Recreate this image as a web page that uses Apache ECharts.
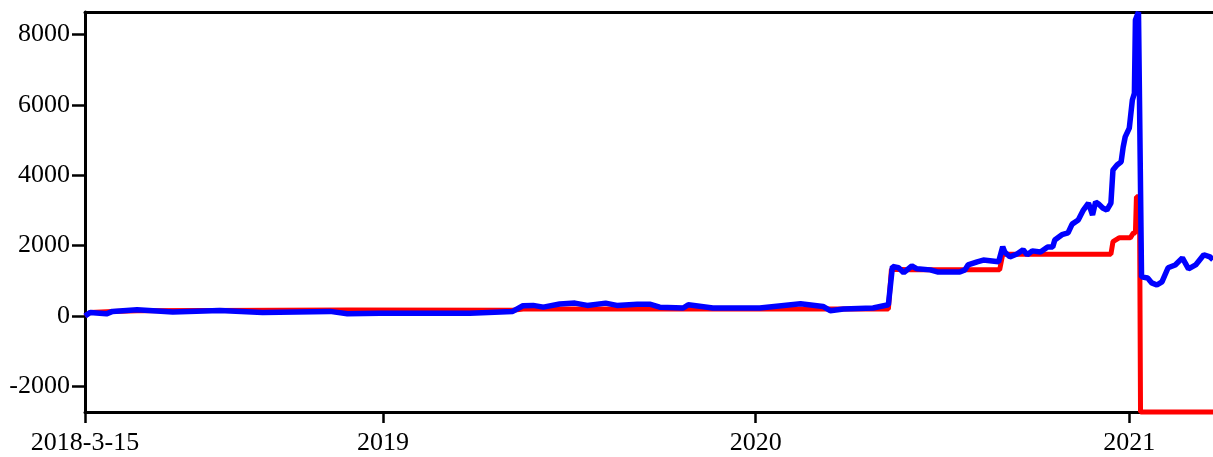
<!DOCTYPE html>
<html>
<head>
<meta charset="utf-8">
<script src="https://cdn.jsdelivr.net/npm/echarts@6/dist/echarts.min.js"></script>
<style>
html,body{margin:0;padding:0;background:#fff;}
#chart{width:1213px;height:457px;}
</style>
</head>
<body>
<div id="chart"></div>
<script>
// Blue series (dates and values)
var blueDates = ['2018-03-15','2018-03-20','2018-04-05','2018-04-11','2018-05-05','2018-06-09','2018-07-25','2018-09-05','2018-11-10','2018-11-27','2018-12-29',
'2019-03-27','2019-05-08','2019-05-18','2019-05-28','2019-06-07','2019-06-23','2019-07-08','2019-07-20','2019-08-07','2019-08-18','2019-09-07','2019-09-20','2019-09-29','2019-10-22','2019-10-27','2019-11-20',
'2020-01-05','2020-02-14','2020-03-07','2020-03-14','2020-03-27','2020-04-25','2020-05-10','2020-05-14','2020-05-20','2020-05-25','2020-06-02','2020-06-07','2020-06-20','2020-06-27','2020-07-19','2020-07-24','2020-07-27','2020-08-05','2020-08-11','2020-08-26','2020-08-30','2020-09-01','2020-09-06','2020-09-13','2020-09-19','2020-09-23','2020-09-28','2020-10-06','2020-10-13','2020-10-18','2020-10-20','2020-10-27','2020-11-02','2020-11-06','2020-11-12','2020-11-17','2020-11-22','2020-11-26','2020-11-29','2020-12-02','2020-12-06','2020-12-10','2020-12-14','2020-12-16','2020-12-20','2020-12-24','2020-12-26','2020-12-28',
'2021-01-01','2021-01-04','2021-01-06','2021-01-07','2021-01-10','2021-01-13','2021-01-19','2021-01-23','2021-01-28','2021-02-02','2021-02-08','2021-02-15','2021-02-22','2021-02-28','2021-03-07','2021-03-15','2021-03-21','2021-03-24'];
var blueValues = [0,100,60,130,175,110,155,100,130,60,80,
80,130,290,300,250,340,365,300,365,300,330,330,250,225,320,225,
225,345,270,150,195,225,320,1405,1370,1230,1420,1340,1310,1250,1250,1310,1450,1540,1590,1540,1970,1820,1680,1760,1880,1740,1850,1820,1960,1960,2160,2310,2360,2610,2730,3010,3210,2870,3240,3180,3070,3010,3210,4150,4290,4380,4800,5090,
5340,6140,6330,8410,8640,1110,1080,940,880,970,1370,1450,1650,1340,1450,1740,1680,1600];

// Red series
var redDates = ['2018-03-15','2018-03-20','2018-04-11','2018-05-05','2018-11-27','2019-05-08','2019-05-18','2020-05-10','2020-05-13','2020-06-01','2020-08-27','2020-08-30','2020-12-14','2020-12-16','2020-12-22','2021-01-02','2021-01-05','2021-01-07','2021-01-08','2021-01-11','2021-01-12','2021-03-24'];
var redValues = [0,100,130,150,170,160,200,195,1330,1310,1310,1755,1755,2110,2220,2220,2360,2360,3390,3390,-2730,-2730];

// Axis ticks
var xTickDates = ['2018-03-15','2019-01-01','2020-01-01','2021-01-01'];
var xTickLabels = ['2018-3-15','2019','2020','2021'];
var yTicks = [-2000,0,2000,4000,6000,8000];
var xMin = '2018-03-15', xMax = '2021-03-24';
var yMin = -2730, yMax = 8640;

function ts(s){ var p = s.split('-'); return Date.UTC(+p[0], +p[1]-1, +p[2]); }
var xTickTs = xTickDates.map(ts);

var font = {fontFamily:'Liberation Serif', fontSize:26, color:'#000'};
var chart = echarts.init(document.getElementById('chart'), null, {renderer:'canvas'});
chart.setOption({
  animation:false,
  backgroundColor:'#fff',
  grid:{left:85, right:0, top:12, bottom:45, containLabel:false},
  xAxis:[{
    type:'value', min:ts(xMin), max:ts(xMax),
    axisLine:{show:true, onZero:false, lineStyle:{color:'#000', width:3}},
    axisTick:{show:true, customValues:xTickTs, length:11, lineStyle:{color:'#000', width:2.5}},
    axisLabel:Object.assign({show:true, customValues:xTickTs, margin:18,
      formatter:function(v){ var i = xTickTs.indexOf(v); return i>=0 ? xTickLabels[i] : ''; }}, font),
    splitLine:{show:false}
  },{
    type:'value', position:'top', min:ts(xMin), max:ts(xMax),
    axisLine:{show:true, onZero:false, lineStyle:{color:'#000', width:3}},
    axisTick:{show:false}, axisLabel:{show:false}, splitLine:{show:false}
  }],
  yAxis:{
    type:'value', min:yMin, max:yMax,
    axisLine:{show:true, onZero:false, lineStyle:{color:'#000', width:3}},
    axisTick:{show:true, customValues:yTicks, length:13, lineStyle:{color:'#000', width:2.5}},
    axisLabel:Object.assign({show:true, customValues:yTicks, margin:15,
      formatter:function(v){ return String(v); }}, font),
    splitLine:{show:false}
  },
  series:[{
    type:'line', name:'red', showSymbol:false, symbol:'none',
    data:redDates.map(function(d,i){return [ts(d), redValues[i]];}),
    lineStyle:{color:'#ff0000', width:5}, clip:false
  },{
    type:'line', name:'blue', showSymbol:false, symbol:'none',
    data:blueDates.map(function(d,i){return [ts(d), blueValues[i]];}),
    lineStyle:{color:'#0000ff', width:5.5}, clip:false
  }]
});
</script>
</body>
</html>
